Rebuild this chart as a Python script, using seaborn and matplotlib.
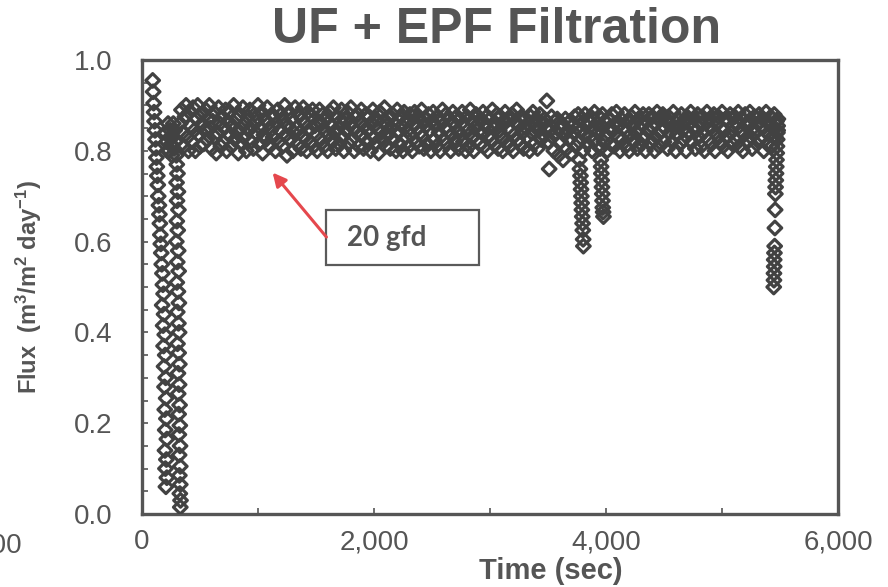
import numpy as np
import pandas as pd
import matplotlib
matplotlib.use("Agg")
import matplotlib.pyplot as plt
from matplotlib.patches import Rectangle
from matplotlib.ticker import MultipleLocator, FuncFormatter
import seaborn as sns

# ---- start-up transient (time in s, flux in m3/m2/day) ----
startup_time = [92, 96, 100, 104, 108, 112, 116, 120, 124, 128, 132, 136, 140, 146,
                150, 154, 158, 162, 166, 170, 176, 180, 186, 174, 190, 182, 196, 186,
                200, 190, 204, 194, 208, 196, 210, 200, 214, 198, 210, 202, 214, 206]
startup_flux = [0.955, 0.93, 0.905, 0.885, 0.865, 0.845, 0.825, 0.805, 0.785, 0.765,
                0.745, 0.725, 0.70, 0.68, 0.66, 0.64, 0.615, 0.595, 0.575, 0.55, 0.53,
                0.505, 0.485, 0.46, 0.44, 0.415, 0.395, 0.37, 0.35, 0.325, 0.30, 0.28,
                0.255, 0.23, 0.21, 0.185, 0.165, 0.14, 0.12, 0.10, 0.08, 0.06]

settle_time = [200, 215, 225, 235, 245, 250, 258, 240, 220,
               270, 282, 262, 290, 276, 296, 300, 306, 298, 310, 302, 314, 300, 308,
               296, 312, 304, 316, 300, 310, 318, 304, 314, 320, 306, 316, 322, 310,
               320, 312, 324, 316, 326, 318, 328, 320, 330, 322, 330, 326, 332, 330]
settle_flux = [0.84, 0.82, 0.86, 0.80, 0.845, 0.815, 0.79, 0.83, 0.80,
               0.86, 0.845, 0.83, 0.82, 0.805, 0.79, 0.77, 0.75, 0.73, 0.71, 0.69,
               0.67, 0.645, 0.625, 0.60, 0.58, 0.555, 0.535, 0.51, 0.49, 0.465, 0.445,
               0.42, 0.40, 0.375, 0.355, 0.33, 0.31, 0.285, 0.265, 0.24, 0.22, 0.195,
               0.175, 0.15, 0.13, 0.105, 0.085, 0.065, 0.045, 0.03, 0.015]

# ---- steady filtration, logged every 10 s from t = 330 s ----
band_start_s = 330
sample_interval_s = 10
band_flux = [
    0.86, 0.89, 0.84, 0.81, 0.875, 0.90, 0.83, 0.80, 0.885, 0.855, 0.82, 0.895, 0.845, 0.80, 0.87, 0.90, 0.835, 0.81, 0.88, 0.86,
    0.815, 0.845, 0.89, 0.825, 0.87, 0.90, 0.85, 0.805, 0.865, 0.885, 0.83, 0.795, 0.84, 0.895, 0.86, 0.81, 0.875, 0.82, 0.85, 0.89,
    0.80, 0.865, 0.835, 0.885, 0.81, 0.855, 0.90, 0.825, 0.87, 0.84, 0.795, 0.88, 0.85, 0.815, 0.895, 0.83, 0.86, 0.80, 0.875, 0.845,
    0.89, 0.82, 0.855, 0.805, 0.88, 0.84, 0.865, 0.90, 0.815, 0.85, 0.885, 0.795, 0.835, 0.87, 0.825, 0.895, 0.86, 0.81, 0.845, 0.88,
    0.83, 0.875, 0.80, 0.86, 0.89, 0.82, 0.845, 0.88, 0.81, 0.865, 0.90, 0.835, 0.79, 0.855, 0.885, 0.825, 0.87, 0.80, 0.84, 0.895,
    0.85, 0.815, 0.88, 0.84, 0.805, 0.87, 0.895, 0.83, 0.86, 0.80, 0.885, 0.845, 0.82, 0.875, 0.89, 0.81, 0.855, 0.835, 0.80, 0.865,
    0.89, 0.825, 0.86, 0.88, 0.81, 0.845, 0.87, 0.80, 0.835, 0.885, 0.855, 0.82, 0.895, 0.84, 0.805, 0.875, 0.85, 0.815, 0.865, 0.89,
    0.83, 0.80, 0.87, 0.845, 0.885, 0.815, 0.86, 0.895, 0.825, 0.85, 0.80, 0.875, 0.84, 0.88, 0.81, 0.865, 0.89, 0.835, 0.805, 0.855,
    0.88, 0.82, 0.845, 0.875, 0.80, 0.86, 0.89, 0.83, 0.815, 0.87, 0.85, 0.795, 0.885, 0.84, 0.825, 0.865, 0.895, 0.81, 0.855, 0.835,
    0.87, 0.805, 0.85, 0.88, 0.825, 0.86, 0.80, 0.89, 0.84, 0.815, 0.875, 0.855, 0.80, 0.885, 0.83, 0.865, 0.845, 0.81, 0.88, 0.835,
    0.80, 0.86, 0.885, 0.82, 0.85, 0.875, 0.81, 0.84, 0.89, 0.83, 0.805, 0.87, 0.855, 0.815, 0.88, 0.845, 0.80, 0.865, 0.885, 0.825,
    0.855, 0.81, 0.875, 0.84, 0.80, 0.865, 0.89, 0.825, 0.85, 0.88, 0.815, 0.845, 0.87, 0.80, 0.835, 0.885, 0.86, 0.82, 0.875, 0.845,
    0.805, 0.87, 0.835, 0.885, 0.82, 0.855, 0.80, 0.875, 0.845, 0.81, 0.89, 0.83, 0.865, 0.80, 0.85, 0.88, 0.825, 0.86, 0.815, 0.87,
    0.84, 0.885, 0.81, 0.855, 0.875, 0.80, 0.835, 0.87, 0.825, 0.89, 0.85, 0.815, 0.86, 0.88, 0.805, 0.845, 0.875, 0.83, 0.80, 0.865,
    0.885, 0.82, 0.85, 0.87, 0.81, 0.845, 0.88, 0.80, 0.835, 0.865, 0.89, 0.825, 0.855, 0.815, 0.875, 0.84, 0.805, 0.87, 0.85, 0.83,
    0.86, 0.80, 0.875, 0.84, 0.885, 0.815, 0.855, 0.87, 0.805, 0.845, 0.88, 0.825, 0.86, 0.835, 0.87, 0.85, 0.91, 0.82, 0.76, 0.845,
    0.875, 0.83, 0.80, 0.865, 0.84, 0.87, 0.79, 0.85, 0.82, 0.86, 0.78, 0.835, 0.87, 0.805, 0.845, 0.825, 0.865, 0.795, 0.855, 0.84,
    0.875, 0.81, 0.85, 0.88, 0.82, 0.845, 0.87, 0.80, 0.835, 0.88, 0.855, 0.815, 0.865, 0.83, 0.875, 0.80, 0.85, 0.885, 0.825, 0.86,
    0.84, 0.875, 0.805, 0.855, 0.88, 0.82, 0.865, 0.835, 0.80, 0.87, 0.85, 0.815, 0.88, 0.845, 0.81, 0.86, 0.885, 0.83, 0.855, 0.80,
    0.87, 0.825, 0.85, 0.88, 0.81, 0.845, 0.865, 0.80, 0.835, 0.875, 0.855, 0.82, 0.885, 0.84, 0.805, 0.87, 0.85, 0.815, 0.86, 0.88,
    0.83, 0.80, 0.865, 0.845, 0.88, 0.815, 0.855, 0.875, 0.825, 0.80, 0.86, 0.885, 0.835, 0.81, 0.87, 0.845, 0.88, 0.82, 0.85, 0.865,
    0.805, 0.875, 0.84, 0.86, 0.82, 0.885, 0.85, 0.80, 0.835, 0.87, 0.855, 0.815, 0.88, 0.845, 0.825, 0.865, 0.80, 0.875, 0.84, 0.86,
    0.885, 0.82, 0.85, 0.87, 0.805, 0.845, 0.88, 0.83, 0.86, 0.81, 0.875, 0.84, 0.80, 0.865, 0.885, 0.825, 0.855, 0.87, 0.815, 0.845,
    0.88, 0.80, 0.86, 0.835, 0.875, 0.82, 0.85, 0.885, 0.81, 0.845, 0.87, 0.83, 0.80, 0.865, 0.88, 0.84, 0.815, 0.855, 0.875, 0.825,
    0.86, 0.885, 0.81, 0.845, 0.87, 0.80, 0.835, 0.88, 0.855, 0.82, 0.865, 0.885, 0.83, 0.805, 0.85, 0.875, 0.84, 0.815, 0.86, 0.88,
    0.825, 0.855, 0.87, 0.80, 0.845, 0.885, 0.815, 0.86, 0.835, 0.875, 0.81, 0.85, 0.88, 0.83, 0.865, 0.845,
]

# ---- short flux drops (backwash events) ----
drop1_time = [3770, 3775, 3780, 3782, 3785, 3788, 3790, 3792, 3795, 3798, 3800, 3803, 3805]
drop1_flux = [0.78, 0.76, 0.745, 0.73, 0.715, 0.70, 0.685, 0.67, 0.655, 0.64, 0.625, 0.605, 0.59]

drop2_time = [3955, 3958, 3960, 3963, 3965, 3968, 3970, 3972, 3975, 3978]
drop2_flux = [0.78, 0.765, 0.75, 0.735, 0.72, 0.705, 0.69, 0.675, 0.665, 0.655]

drop3_time = [5482, 5480, 5478, 5476, 5474, 5472, 5470, 5468, 5466, 5464, 5462, 5460,
              5458, 5456, 5454, 5452, 5450, 5450, 5448, 5448, 5446]
drop3_flux = [0.87, 0.855, 0.84, 0.825, 0.81, 0.795, 0.78, 0.765, 0.75, 0.735, 0.72, 0.705,
              0.67, 0.63, 0.59, 0.575, 0.56, 0.545, 0.53, 0.515, 0.50]

x_ticks = [0, 2000, 4000, 6000]
y_ticks = [0.0, 0.2, 0.4, 0.6, 0.8, 1.0]

band_time = band_start_s + sample_interval_s * np.arange(len(band_flux))

df = pd.DataFrame({
    "time": np.concatenate([startup_time, settle_time, band_time,
                            drop1_time, drop2_time, drop3_time]).astype(float),
    "flux": np.concatenate([startup_flux, settle_flux, band_flux,
                            drop1_flux, drop2_flux, drop3_flux]).astype(float),
})

sns.set_theme(style="white")
plt.rcParams["font.family"] = ["Liberation Sans", "DejaVu Sans"]
plt.rcParams["mathtext.fontset"] = "custom"
plt.rcParams["mathtext.rm"] = "Liberation Sans:bold"
plt.rcParams["mathtext.bf"] = "Liberation Sans:bold"
plt.rcParams["mathtext.it"] = "Liberation Sans:bold"

text_grey = "#555555"
mark_grey = "#424242"
frame_grey = "#555555"

fig = plt.figure(figsize=(8.88, 5.87), dpi=100)
ax = fig.add_axes([142 / 888, 1 - 514 / 587, (838 - 142) / 888, (514 - 60) / 587])

sns.scatterplot(data=df, x="time", y="flux", ax=ax, marker="D", legend=False, zorder=3)
for coll in ax.collections:
    coll.set_sizes([48])
    coll.set_linewidth(2.3)
    coll.set_facecolor("none")
    coll.set_edgecolor(mark_grey)

ax.set_xlim(0, 6000)
ax.set_ylim(0, 1.0)
ax.set_xticks(x_ticks)
ax.set_yticks(y_ticks)
ax.xaxis.set_minor_locator(MultipleLocator(1000))
ax.yaxis.set_minor_locator(MultipleLocator(0.05))
ax.xaxis.set_major_formatter(FuncFormatter(lambda v, p: f"{int(v):,}"))
ax.yaxis.set_major_formatter(FuncFormatter(lambda v, p: f"{v:.1f}"))

ax.tick_params(axis="both", which="both", direction="in", color=frame_grey,
               width=1.2, labelcolor=text_grey, labelsize=20)
ax.tick_params(axis="both", which="both", length=4.5)
ax.tick_params(axis="y", which="both", pad=21, left=True)
ax.tick_params(axis="x", which="both", pad=11, bottom=True)

for sp in ax.spines.values():
    sp.set_visible(True)
    sp.set_color(frame_grey)
    sp.set_linewidth(2.4)

ax.set_xlabel("Time (sec)", fontsize=21, fontweight="bold", color=text_grey)
ax.xaxis.set_label_coords(0.588, -0.095)
ax.set_ylabel(r"Flux  (m$^{3}$/m$^{2}$ day$^{-1}$)", fontsize=17,
              fontweight="bold", color=text_grey, labelpad=22)

ax.set_title("UF + EPF Filtration", fontsize=36, fontweight="bold",
             color=text_grey, pad=12, x=0.51)

# annotation box with arrow
ax.add_patch(Rectangle((1590, 0.548), 1316, 0.122, facecolor="white",
                       edgecolor="#5a5a5a", linewidth=1.6, zorder=4))
ax.text(1763, 0.609, "20 gfd", fontsize=20, fontweight="bold", color=text_grey,
        family=["Lato", "DejaVu Sans"], ha="left", va="center", zorder=5)
ax.annotate("", xy=(1126, 0.752), xytext=(1590, 0.610),
            arrowprops=dict(arrowstyle="-|>", color="#e5484d", lw=2.2,
                            mutation_scale=20, shrinkA=0, shrinkB=0), zorder=5)

# neighbouring panel's last x tick label, cut off at the left edge
fig.text(22 / 888, 1 - 545 / 587, "6,000", fontsize=20, color=text_grey,
         ha="right", va="center")

fig.savefig("out.png", dpi=100)
